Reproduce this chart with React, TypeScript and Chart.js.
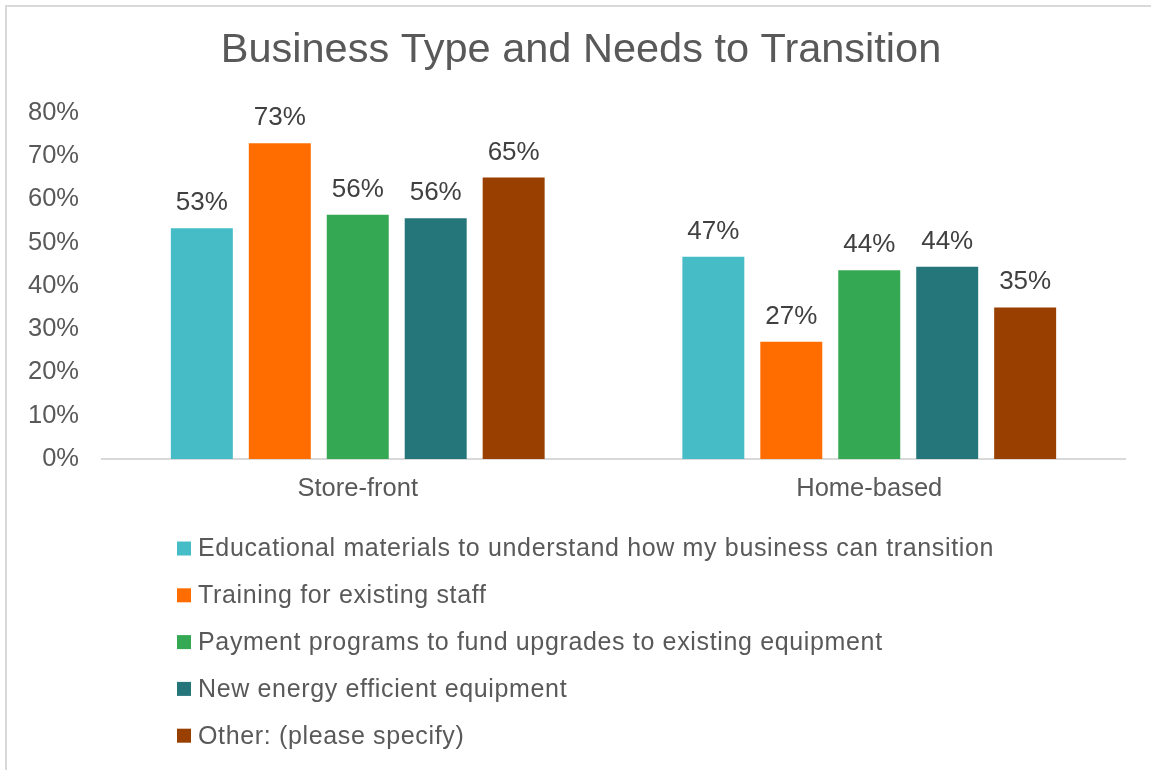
import React, { useEffect, useRef } from "react";
import { Chart, registerables } from "chart.js";

Chart.register(...registerables);

const titleText = "Business Type and Needs to Transition";
const categories = ["Store-front", "Home-based"];
const seriesNames = [
  "Educational materials to understand how my business can transition",
  "Training for existing staff",
  "Payment programs to fund upgrades to existing equipment",
  "New energy efficient equipment",
  "Other: (please specify)",
];
const seriesColors = ["#46BCC6", "#FF6D00", "#35A853", "#24767A", "#993F00"];
const educationalValues = [53.3, 46.7];
const trainingValues = [72.9, 27.1];
const paymentValues = [56.4, 43.6];
const equipmentValues = [55.6, 44.4];
const otherValues = [65.0, 35.0];
const yTickValues = [0, 10, 20, 30, 40, 50, 60, 70, 80];

const FONT = "'Liberation Sans', Arial, sans-serif";

const titlePlugin = {
  id: "customTitle",
  afterDraw(chart: any) {
    const ctx = chart.ctx;
    ctx.save();
    ctx.font = `41.5px ${FONT}`;
    ctx.fillStyle = "#595959";
    ctx.textAlign = "center";
    ctx.textBaseline = "middle";
    ctx.fillText(titleText, 581, 51);
    ctx.restore();
  },
};

const dataLabelPlugin = {
  id: "dataLabels",
  afterDatasetsDraw(chart: any) {
    const ctx = chart.ctx;
    ctx.save();
    ctx.font = `26px ${FONT}`;
    ctx.fillStyle = "#404040";
    ctx.textAlign = "center";
    ctx.textBaseline = "alphabetic";
    chart.data.datasets.forEach((ds: any, i: number) => {
      const meta = chart.getDatasetMeta(i);
      meta.data.forEach((el: any, j: number) => {
        const v = ds.data[j];
        ctx.fillText(Math.round(v) + "%", el.x, el.y - 18);
      });
    });
    ctx.restore();
  },
};

const legendPlugin = {
  id: "verticalLegend",
  afterDraw(chart: any) {
    const ctx = chart.ctx;
    const startY = chart.chartArea.bottom + 89.5;
    const step = 46.8;
    ctx.save();
    ctx.font = `25px ${FONT}`;
    try {
      (ctx as any).letterSpacing = "0.65px";
    } catch (e) {}
    ctx.textAlign = "left";
    ctx.textBaseline = "middle";
    chart.data.datasets.forEach((ds: any, i: number) => {
      const y = startY + i * step;
      ctx.fillStyle = ds.backgroundColor;
      ctx.fillRect(177, y - 7, 14, 14);
      ctx.fillStyle = "#595959";
      ctx.fillText(ds.label, 198, y + 1);
    });
    ctx.restore();
  },
};

export default function App() {
  const canvasRef = useRef<HTMLCanvasElement | null>(null);

  useEffect(() => {
    if (!canvasRef.current) return;
    const seriesValues = [
      educationalValues,
      trainingValues,
      paymentValues,
      equipmentValues,
      otherValues,
    ];
    const chart = new Chart(canvasRef.current, {
      type: "bar",
      data: {
        labels: categories,
        datasets: seriesNames.map((name, i) => ({
          label: name,
          data: seriesValues[i],
          backgroundColor: seriesColors[i],
          borderWidth: 0,
          categoryPercentage: 0.762,
          barPercentage: 0.795,
        })),
      },
      options: {
        responsive: false,
        animation: false,
        layout: { padding: { left: 0, right: 26, top: 112.6, bottom: 251 } },
        plugins: {
          legend: { display: false },
          tooltip: { enabled: false },
          title: { display: false },
        },
        scales: {
          x: {
            grid: { display: false, drawTicks: false },
            border: { display: true, color: "#D9D9D9", width: 2 },
            ticks: {
              color: "#595959",
              font: { family: FONT, size: 25.5 },
              padding: 15,
            },
            afterFit(s: any) {
              s.height = 60;
            },
          },
          y: {
            min: 0,
            max: 80,
            grid: { display: false, drawTicks: false },
            border: { display: false },
            afterBuildTicks(s: any) {
              s.ticks = yTickValues.map((v) => ({ value: v }));
            },
            ticks: {
              color: "#595959",
              font: { family: FONT, size: 25.5 },
              padding: 23,
              callback: (v: any) => v + "%",
            },
            afterFit(s: any) {
              s.width = 102;
            },
          },
        },
      },
      plugins: [titlePlugin, dataLabelPlugin, legendPlugin],
    });
    return () => chart.destroy();
  }, []);

  return (
    <div
      style={{
        position: "fixed",
        left: 0,
        top: 0,
        width: 1151,
        height: 770,
        overflow: "hidden",
        background: "#FFFFFF",
      }}
    >
      <div
        style={{
          position: "absolute",
          left: 5,
          top: 5,
          width: 2000,
          height: 2000,
          border: "2px solid #D9D9D9",
        }}
      />
      <canvas
        ref={canvasRef}
        width={1151}
        height={770}
        style={{ position: "absolute", left: 0, top: 0 }}
      />
    </div>
  );
}
